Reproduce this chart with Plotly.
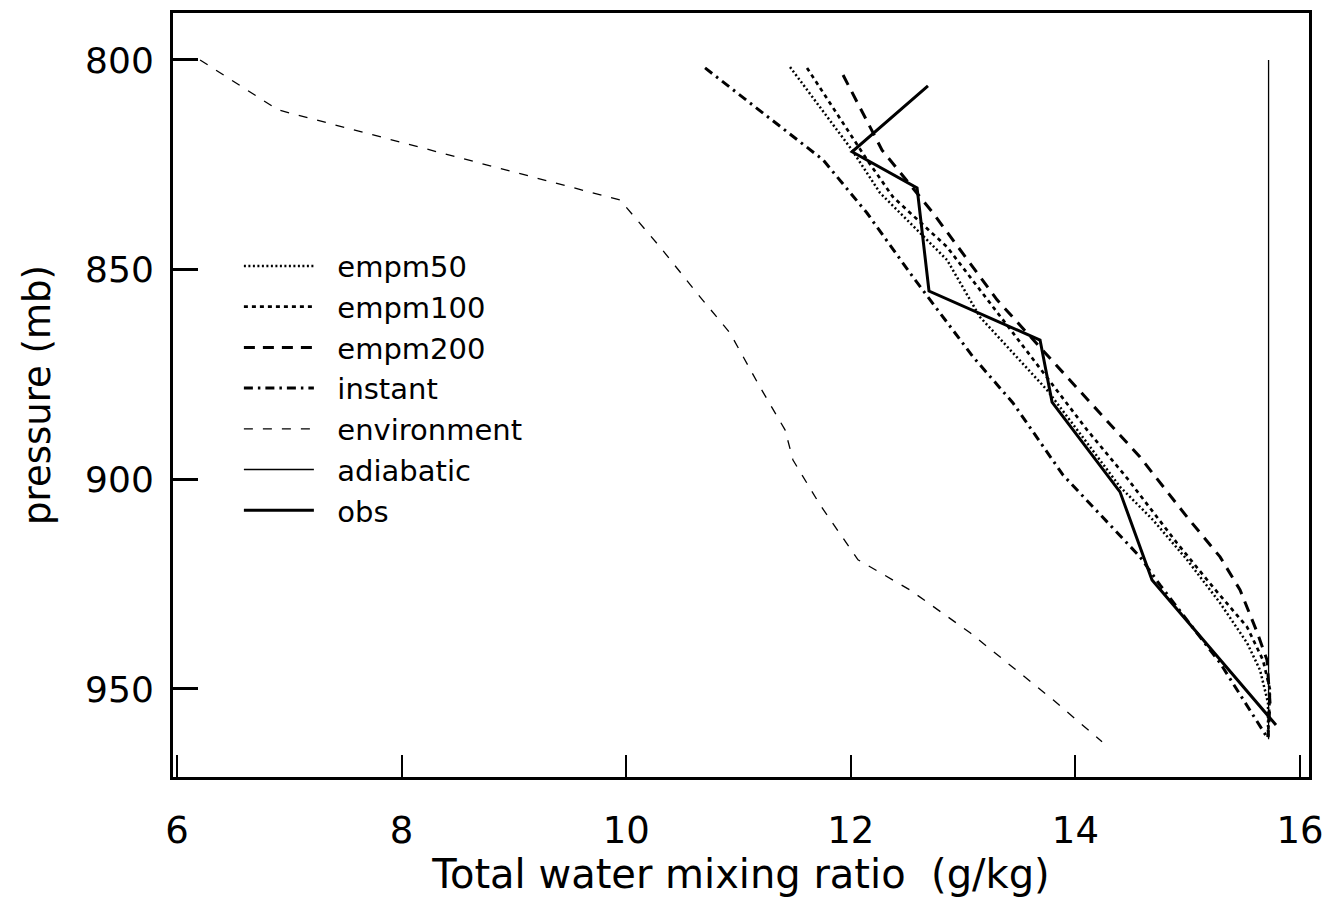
import plotly.graph_objects as go

# ---- data ----
env_x = [6.205, 6.899, 9.945, 10.301, 10.657, 10.924, 11.191, 11.414, 11.485, 11.726, 12.064, 12.527, 13.062, 13.507, 13.801, 14.237]
env_p = [800.0, 811.9, 833.4, 844.6, 856.5, 865.1, 878.0, 888.2, 895.4, 906.1, 919.2, 926.4, 936.6, 946.2, 952.6, 962.6]

obs_x = [12.687, 12.011, 12.590, 12.696, 13.685, 13.792, 14.397, 14.682, 15.786]
obs_p = [806.2, 821.9, 830.5, 855.1, 866.8, 881.6, 903.0, 924.0, 958.6]

inst_x = [10.702, 11.752, 12.144, 12.554, 13.088, 13.444, 13.890, 14.575, 14.753, 15.288, 15.706]
inst_p = [801.9, 823.8, 836.5, 851.8, 870.8, 881.8, 899.0, 918.5, 925.2, 943.8, 961.5]

e50_x = [11.459, 12.011, 12.260, 12.857, 13.150, 13.747, 14.103, 14.397, 14.691, 14.994, 15.288, 15.528, 15.644, 15.715, 15.715]
e50_p = [801.7, 821.5, 831.7, 847.7, 861.3, 878.7, 891.3, 901.8, 909.7, 919.2, 929.5, 939.0, 945.5, 953.3, 961.5]

e100_x = [11.610, 12.144, 12.376, 12.857, 13.444, 14.103, 14.459, 14.904, 15.225, 15.528, 15.670, 15.733, 15.715]
e100_p = [801.9, 823.8, 832.7, 844.6, 865.1, 888.2, 899.7, 915.2, 925.7, 935.2, 943.1, 950.2, 961.5]

e200_x = [11.931, 12.278, 12.732, 13.302, 13.925, 14.575, 14.994, 15.288, 15.466, 15.617, 15.706, 15.733, 15.715]
e200_p = [803.6, 821.5, 836.5, 857.2, 875.6, 894.7, 909.0, 918.5, 926.4, 936.4, 943.1, 953.3, 961.5]

adi_x = [15.72, 15.72]
adi_p = [800.0, 962.0]

x_ticks = [6, 8, 10, 12, 14, 16]
y_ticks = [800, 850, 900, 950]

FONT = "DejaVu Sans"
PAD = "\u00a0\u00a0"

fig = go.Figure()
series = [
    ("empm50", e50_x, e50_p, 2.5, "2px,2.5px"),
    ("empm100", e100_x, e100_p, 2.7, "4px,4px"),
    ("empm200", e200_x, e200_p, 3.0, "11px,8px"),
    ("instant", inst_x, inst_p, 3.0, "9px,5px,2.5px,5px"),
    ("environment", env_x, env_p, 1.3, "9px,10px"),
    ("adiabatic", adi_x, adi_p, 1.3, "solid"),
    ("obs", obs_x, obs_p, 3.0, "solid"),
]
for name, xs, ps, w, dash in series:
    fig.add_trace(go.Scatter(
        x=xs, y=ps, mode="lines", name=PAD + name, legendgroup=name,
        line=dict(color="black", width=w, dash=dash),
    ))

fig.update_layout(
    width=1328, height=897,
    margin=dict(l=173, r=19, t=13, b=120),
    paper_bgcolor="white", plot_bgcolor="white",
    font=dict(family=FONT, color="black"),
    showlegend=True,
    legend=dict(
        x=0.058, y=0.702, xanchor="left", yanchor="top",
        bgcolor="rgba(0,0,0,0)", borderwidth=0,
        font=dict(family=FONT, size=29, color="black"),
        itemwidth=70, tracegroupgap=0,
    ),
    xaxis=dict(
        range=[5.964, 16.080], tickvals=x_ticks, ticktext=[str(v) for v in x_ticks],
        ticks="inside", ticklen=22, tickwidth=2, tickcolor="black",
        showline=True, linewidth=3, linecolor="black", mirror=True,
        showgrid=False, zeroline=False, automargin=False,
        tickfont=dict(family=FONT, size=37, color="black"),
        ticklabelstandoff=19,
        title=dict(text="Total water mixing ratio  (g/kg)", font=dict(family=FONT, size=40, color="black"), standoff=20),
    ),
    yaxis=dict(
        range=[971.0, 788.8], tickvals=y_ticks, ticktext=[str(v) for v in y_ticks],
        ticks="inside", ticklen=25, tickwidth=3, tickcolor="black",
        showline=True, linewidth=3, linecolor="black", mirror=True,
        showgrid=False, zeroline=False, automargin=False,
        tickfont=dict(family=FONT, size=36, color="black"),
        ticklabelstandoff=9,
        title=dict(text="pressure (mb)", font=dict(family=FONT, size=37, color="black"), standoff=24),
    ),
)

fig.write_html("out.html")
